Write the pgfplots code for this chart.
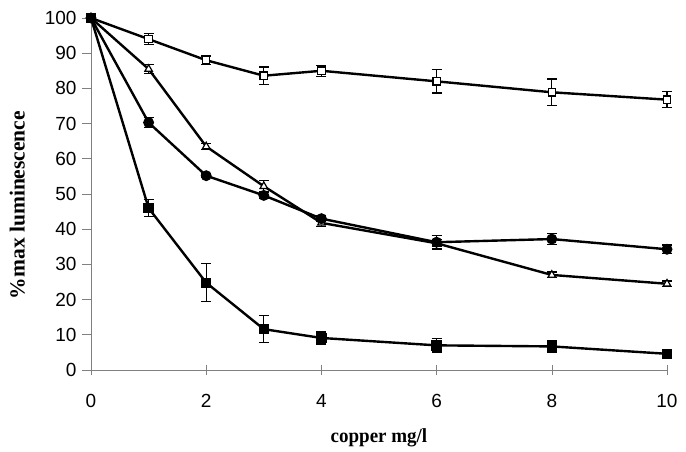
\documentclass[border=0pt]{standalone}
\usepackage{pgfplots}
\pgfplotsset{compat=1.18}
\usepackage{pgfplotstable}
\usepackage{fontspec}
\setmainfont{Liberation Serif}
\newfontfamily\arialf{Liberation Sans}

\pgfplotstableread{
x y e
0 100 0
1 94 1.5
2 88 1.2
3 83.6 2.5
4 85 1.6
6 82 3.3
8 78.9 3.8
10 76.8 2.3
}\openSq
\pgfplotstableread{
x y e
0 100 0
1 85.5 1.2
2 63.5 0.8
3 52.2 1.6
4 41.8 1.0
6 36.0 1.0
8 27.0 0.8
10 24.5 0.8
}\triData
\pgfplotstableread{
x y e
0 100 0
1 70.3 1.5
2 55.2 0.5
3 49.6 0.8
4 43.0 0.8
6 36.3 1.9
8 37.2 1.5
10 34.3 1.2
}\circData
\pgfplotstableread{
x y e
0 100 0
1 46.0 2.4
2 24.8 5.4
3 11.6 3.8
4 9.1 1.7
6 7.0 1.9
8 6.7 1.7
10 4.6 0.8
}\fillSq

\pgfplotsset{
  myerr/.style={
    error bars/y dir=both, error bars/y explicit,
    error bars/error bar style={line width=1.3pt, black, solid},
    error bars/error mark options={rotate=90, mark size=5pt, line width=1.3pt, black}},
}

\begin{document}
\begin{tikzpicture}
\path[use as bounding box] (-91pt,-82pt) rectangle (595pt,370pt);
\begin{axis}[
  at={(0,0)}, anchor=south west,
  scale only axis, width=576pt, height=352pt,
  xmin=0, xmax=10, ymin=0, ymax=100,
  axis x line=bottom, axis y line=left,
  axis line style={-, gray, line width=0.6pt},
  xtick={0,2,4,6,8,10}, ytick={0,10,...,100},
  tick align=center, major tick length=10pt,
  tick style={gray, line width=0.6pt},
  ytick style={xshift=-4pt},
  /pgf/number format/assume math mode=true,
  ticklabel style={font=\arialf\fontsize{19}{19}\selectfont},
  xticklabel style={yshift=-16pt},
  yticklabel style={xshift=-6pt},
  xlabel={\fontsize{20}{20}\selectfont\bfseries\scalebox{0.95}[1]{copper mg/l}},
  ylabel={\fontsize{21.5}{21.5}\selectfont\bfseries \%max luminescence},
  xlabel style={yshift=-14pt},
  ylabel style={yshift=13pt, xshift=-11pt},
  clip=false,
]
\addplot[black, line width=2.4pt, mark=square*, mark size=3.7pt, mark options={fill=white, line width=1.2pt, solid}, myerr]
  table[x=x, y=y, y error=e] {\openSq};
\addplot[black, line width=2.4pt, mark=triangle*, mark size=4.3pt, mark options={fill=white, line width=1.2pt, solid}, myerr]
  table[x=x, y=y, y error=e] {\triData};
\addplot[black, line width=2.4pt, mark=*, mark size=4.2pt, mark options={fill=black, solid}, myerr]
  table[x=x, y=y, y error=e] {\circData};
\addplot[black, line width=2.4pt, mark=square*, mark size=4pt, mark options={fill=black, solid}, myerr]
  table[x=x, y=y, y error=e] {\fillSq};
\end{axis}
\end{tikzpicture}
\end{document}
